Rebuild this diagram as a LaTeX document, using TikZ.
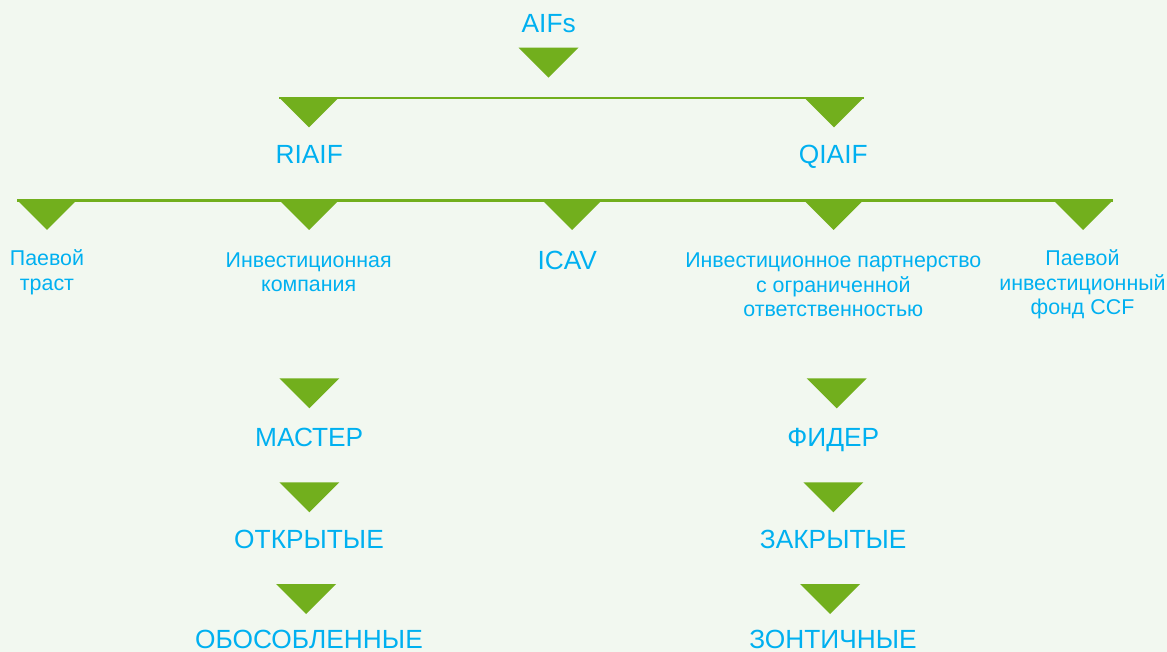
\documentclass[tikz,border=0pt]{standalone}
\usepackage{fontspec}
\setmainfont{Liberation Sans}
\definecolor{bg}{RGB}{242,248,240}
\definecolor{leaf}{RGB}{114,175,29}
\definecolor{txt}{RGB}{0,176,240}
\newcommand\greentri[3]{%
  \coordinate (#1) at (#2,#3);
  \coordinate (#1-l) at (#2-30,#3);
  \coordinate (#1-r) at (#2+30,#3);
  \coordinate (#1-a) at (#2,#3+30);
  \fill[tri] (#1-l) -- (#1-r) -- (#1-a) -- cycle;}
\begin{document}
\begin{tikzpicture}[x=1pt,y=-1pt,
  tri/.style={fill=leaf},
  link/.style={draw=leaf,line width=2.5pt},
  big/.style={text=txt,font=\fontsize{26.3}{30}\selectfont,inner sep=0pt,anchor=base},
  small/.style={text=txt,font=\fontsize{21.4}{24.5}\selectfont,inner sep=0pt,anchor=base,align=center},
]
\fill[bg] (0,0) rectangle (1167,652);
\useasboundingbox (0,0) rectangle (1167,652);

% level 0
\node[big] (aifs) at (548.7,32.3) {AIFs};
\greentri{t0}{548.5}{47.7}

% level 1
\greentri{r1}{309}{97.3}
\greentri{r2}{834}{97.3}
\draw[link] ([yshift=-0.9pt]r1-l) -- ([yshift=-0.9pt]r2-r);
\node[big] (riaif) at (309.2,164) {RIAIF};
\node[big] (qiaif) at (833.3,164) {QIAIF};

% level 2
\greentri{s1}{47}{200}
\greentri{s2}{309}{200}
\greentri{s3}{572}{200}
\greentri{s4}{833.5}{200}
\greentri{s5}{1083}{200}
\draw[link] ([yshift=-0.7pt]s1-l) -- ([yshift=-0.7pt]s5-r);
\node[small] (unit) at (47,290.5) {Паевой\\траст};
\node[small] (invco) at (308.7,291.8) {Инвестиционная\\компания};
\node[big] (icav) at (567.3,270) {ICAV};
\node[small] (ilp) at (833.3,316.5) {Инвестиционное партнерство\\с ограниченной\\ответственностью};
\node[small] (ccf) at (1082.5,314.5) {Паевой\\инвестиционный\\фонд CCF};

% left column
\greentri{m1}{309.3}{378.3}
\node[big] (master) at (309.2,446.7) {МАСТЕР};
\greentri{m2}{309.3}{482.3}
\node[big] (open) at (309,548.3) {ОТКРЫТЫЕ};
\greentri{m3}{306}{584}
\node[big] (segr) at (309,648.4) {ОБОСОБЛЕННЫЕ};

% right column
\greentri{f1}{836.7}{378.3}
\node[big] (feeder) at (833.3,446.7) {ФИДЕР};
\greentri{f2}{833.3}{482.3}
\node[big] (closed) at (833.2,548) {ЗАКРЫТЫЕ};
\greentri{f3}{830}{584}
\node[big] (umbr) at (833,648.4) {ЗОНТИЧНЫЕ};
\end{tikzpicture}
\end{document}
